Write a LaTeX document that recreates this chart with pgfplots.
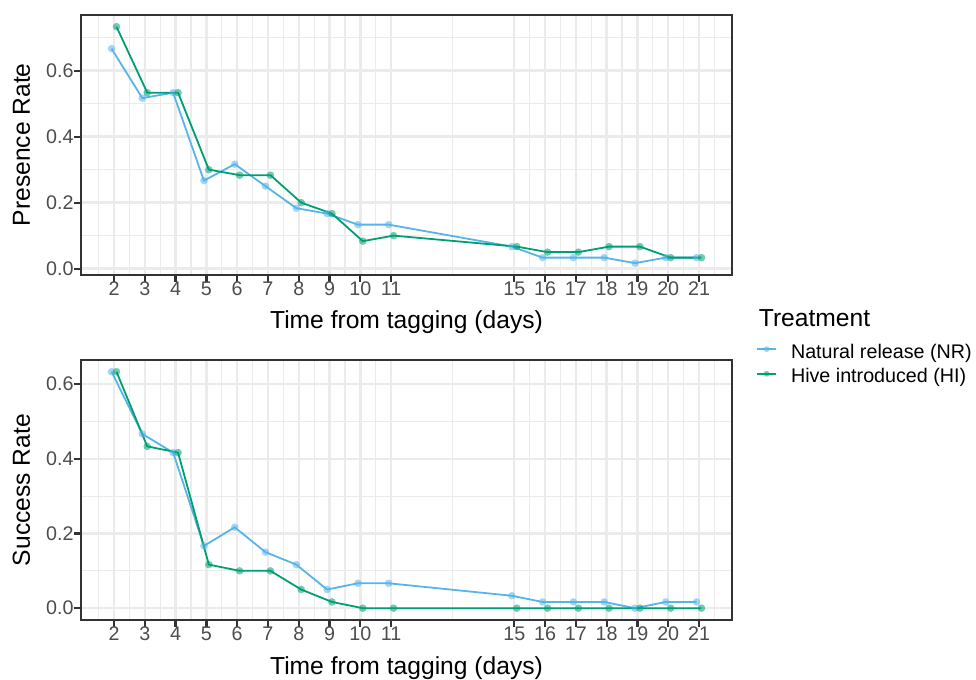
\documentclass[border=0pt]{standalone}
\usepackage{fontspec}
\setmainfont{Liberation Sans}
\usepackage{pgfplots}
\pgfplotsset{compat=1.18}
\usepackage{pgfplotstable}

\definecolor{nrblue}{HTML}{56B4E9}
\definecolor{higreen}{HTML}{009E73}
\definecolor{gridgray}{HTML}{EBEBEB}
\definecolor{g20}{HTML}{333333}
\definecolor{g30}{HTML}{4D4D4D}

\pgfplotstableread{
day pNR    pHI    sNR    sHI
2   0.6667 0.7333 0.6333 0.6333
3   0.5167 0.5333 0.4667 0.4333
4   0.5333 0.5333 0.4167 0.4167
5   0.2667 0.3000 0.1667 0.1167
6   0.3167 0.2833 0.2167 0.1000
7   0.2500 0.2833 0.1500 0.1000
8   0.1833 0.2000 0.1167 0.0500
9   0.1667 0.1667 0.0500 0.0167
10  0.1333 0.0833 0.0667 0.0000
11  0.1333 0.1000 0.0667 0.0000
15  0.0667 0.0667 0.0333 0.0000
16  0.0333 0.0500 0.0167 0.0000
17  0.0333 0.0500 0.0167 0.0000
18  0.0333 0.0667 0.0167 0.0000
19  0.0167 0.0667 0.0000 0.0000
20  0.0333 0.0333 0.0167 0.0000
21  0.0333 0.0333 0.0167 0.0000
}\data

\pgfplotsset{
  panel/.style={
    scale only axis, width=291.1pt, height=116.2pt, anchor=south west,
    xmin=0.918, xmax=22.082,
    xtick={2,3,4,5,6,7,8,9,10,11,15,16,17,18,19,20,21},
    minor xtick={1.5,2.5,3.5,4.5,5.5,6.5,7.5,8.5,9.5,10.5,13,15.5,16.5,17.5,18.5,19.5,20.5,21.5},
    ytick={0,0.2,0.4,0.6},
    grid=both,
    major grid style={draw=gridgray, line width=1.07pt},
    minor grid style={draw=gridgray, line width=0.53pt},
    tick pos=left, tick align=outside,
    major tick length=3pt, minor tick length=0pt,
    major tick style={draw=g20, line width=1pt},
    axis line style={draw=g20, line width=1pt},
    /pgf/number format/assume math mode=true,
    ticklabel style={font=\fontsize{8.8}{10}\selectfont, text=g30},
    xticklabel style={inner sep=0pt},
    yticklabel style={inner sep=0pt, /pgf/number format/.cd, fixed, fixed zerofill, precision=1},
  },
  nrline/.style={nrblue, line width=0.8pt, forget plot},
  hiline/.style={higreen, line width=0.8pt, forget plot},
  nrmark/.style={mark=*, mark size=1.7pt, mark options={draw=nrblue, draw opacity=0, fill=nrblue, fill opacity=0.55}},
  himark/.style={mark=*, mark size=1.7pt, mark options={draw=higreen, draw opacity=0, fill=higreen, fill opacity=0.55}},
  nrpts/.style={only marks, nrmark, forget plot},
  hipts/.style={only marks, himark, forget plot},
}

\begin{document}
\begin{tikzpicture}
\path[use as bounding box] (0pt,0pt) rectangle (436pt,303.33pt);

% top panel
\begin{axis}[panel, at={(36.05pt,180.5pt)}, ymin=-0.0192, ymax=0.7692,
  minor ytick={0.1,0.3,0.5,0.7}]
\addplot[nrline] table[x expr=\thisrow{day}-0.08, y=pNR]{\data};
\addplot[hiline] table[x expr=\thisrow{day}+0.08, y=pHI]{\data};
\addplot[nrpts] table[x expr=\thisrow{day}-0.08, y=pNR]{\data};
\addplot[hipts] table[x expr=\thisrow{day}+0.08, y=pHI]{\data};
\end{axis}

% bottom panel
\begin{axis}[panel, at={(36.05pt,26.36pt)}, ymin=-0.03167, ymax=0.665,
  minor ytick={0.1,0.3,0.5},
  legend cell align=left,
  legend image code/.code={\draw[mark repeat=2,mark phase=2,#1] plot coordinates {(0pt,2.5pt) (4.3pt,2.5pt) (8.6pt,2.5pt)};},
  legend style={at={(1.0365,1.0672)}, anchor=north west, draw=none, fill=none,
    inner sep=0pt, outer sep=0pt, row sep=0pt,
    font=\fontsize{8.8}{10}\selectfont,
    nodes={inner sep=0pt, text height=7pt, text depth=4pt},
    /tikz/every odd column/.append style={column sep=6.2pt}},
  ]
\addplot[nrline] table[x expr=\thisrow{day}-0.08, y=sNR]{\data};
\addplot[hiline] table[x expr=\thisrow{day}+0.08, y=sHI]{\data};
\addplot[nrpts] table[x expr=\thisrow{day}-0.08, y=sNR]{\data};
\addplot[hipts] table[x expr=\thisrow{day}+0.08, y=sHI]{\data};
\addlegendimage{nrblue, line width=0.8pt, mark=*, mark size=1.3pt, mark options={draw=nrblue, draw opacity=0, fill=nrblue, fill opacity=0.55}}
\addlegendentry{Natural release (NR)}
\addlegendimage{higreen, line width=0.8pt, mark=*, mark size=1.3pt, mark options={draw=higreen, draw opacity=0, fill=higreen, fill opacity=0.55}}
\addlegendentry{Hive introduced (HI)}
\end{axis}

% axis titles
\node[rotate=90, anchor=base, font=\fontsize{11}{13}\selectfont] at (13.4pt,238.65pt) {Presence Rate};
\node[rotate=90, anchor=base, font=\fontsize{11}{13}\selectfont] at (13.4pt,84.4pt) {Success Rate};
\node[anchor=base, font=\fontsize{11}{13}\selectfont] at (181.6pt,156.7pt) {Time from tagging (days)};
\node[anchor=base, font=\fontsize{11}{13}\selectfont] at (181.6pt,2.2pt) {Time from tagging (days)};
\node[anchor=base west, font=\fontsize{11}{13}\selectfont, inner sep=0pt] at (338.8pt,157.7pt) {Treatment};
\end{tikzpicture}
\end{document}
